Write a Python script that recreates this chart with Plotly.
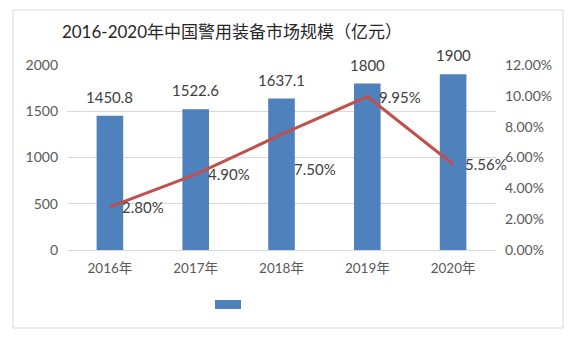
import plotly.graph_objects as go

years = ["2016年", "2017年", "2018年", "2019年", "2020年"]
market = [1450.8, 1522.6, 1637.1, 1800, 1900]
growth = [2.80, 4.90, 7.50, 9.95, 5.56]
market_labels = ["1450.8", "1522.6", "1637.1", "1800", "1900"]
growth_labels = ["2.80%", "4.90%", "7.50%", "9.95%", "5.56%"]
left_ticks = [0, 500, 1000, 1500, 2000]
right_ticks = [0, 2, 4, 6, 8, 10, 12]
right_tick_text = ["0.00%", "2.00%", "4.00%", "6.00%", "8.00%", "10.00%", "12.00%"]

FONT = "Lato, 'Noto Sans CJK SC', sans-serif"

fig = go.Figure()
fig.add_trace(go.Bar(
    x=years, y=market, width=0.31,
    marker=dict(color="#4F81BD", line=dict(width=0)),
    name="警用装备市场规模", showlegend=False,
))
fig.add_trace(go.Scatter(
    x=years, y=growth, yaxis="y2", mode="lines",
    line=dict(color="#C0504D", width=3),
    name="增长率", showlegend=False,
))

annotations = []
for x, v, t in zip(years, market, market_labels):
    annotations.append(dict(x=x, y=v, xref="x", yref="y", text=t, showarrow=False,
                            xanchor="center", yanchor="bottom", yshift=8,
                            font=dict(size=15, color="#404040", family=FONT)))
label_dy = [0, 0, -35, 0, 0]
for x, v, t, dy in zip(years, growth, growth_labels, label_dy):
    annotations.append(dict(x=x, y=v, xref="x", yref="y2", text=t, showarrow=False,
                            xanchor="left", yanchor="middle", xshift=10, yshift=dy,
                            font=dict(size=15, color="#404040", family=FONT)))

fig.update_layout(
    width=575, height=343,
    margin=dict(l=67, r=79, t=65, b=93, autoexpand=False),
    paper_bgcolor="white", plot_bgcolor="white",
    font=dict(family=FONT, color="#595959"),
    title=dict(text="2016-2020年中国警用装备市场规模（亿元）",
               x=232/575, xanchor="center", y=1-32/343, yanchor="middle",
               font=dict(size=17, color="#262626", family=FONT)),
    xaxis=dict(range=[-0.5, len(years) - 0.5], showgrid=False, showline=True,
               linecolor="#D9D9D9", linewidth=1,
               ticks="", tickfont=dict(size=13.5, color="#595959"),
               ticklabelstandoff=6, automargin=False),
    yaxis=dict(range=[0, 2000], tickvals=left_ticks, showgrid=True,
               gridcolor="#D9D9D9", gridwidth=1, zeroline=False,
               tickfont=dict(size=14, color="#595959"), ticklabelstandoff=8,
               automargin=False),
    yaxis2=dict(range=[0, 12], overlaying="y", side="right",
                tickvals=right_ticks, ticktext=right_tick_text,
                showgrid=False, zeroline=False,
                tickfont=dict(size=14, color="#595959"), ticklabelstandoff=8,
                automargin=False),
    bargap=0.69,
    annotations=annotations,
    shapes=[
        dict(type="rect", xref="paper", yref="paper",
             x0=-54/429, x1=(563-67)/429, y0=-(328-250)/185, y1=(250-10)/185,
             line=dict(color="#D9D9D9", width=1), fillcolor="rgba(0,0,0,0)"),
        dict(type="rect", xref="paper", yref="paper",
             x0=(215-67)/429, x1=(241-67)/429,
             y0=-(309-250)/185, y1=-(300-250)/185,
             line=dict(width=0), fillcolor="#4F81BD"),
    ],
)

fig.write_html("out.html")
